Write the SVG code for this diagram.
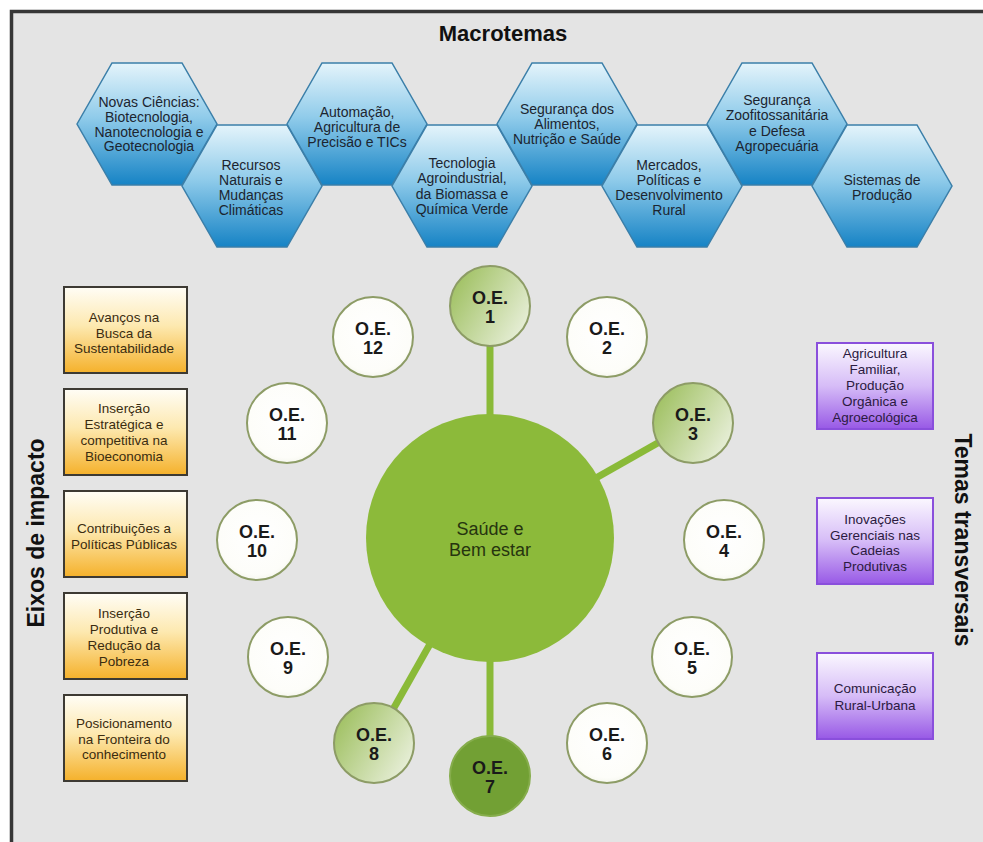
<svg xmlns="http://www.w3.org/2000/svg" xmlns:xlink="http://www.w3.org/1999/xlink" width="983" height="842" viewBox="0 0 983 842">
  <defs>
    <linearGradient id="gHex" x1="0" y1="0" x2="0" y2="1">
      <stop offset="0" stop-color="#e4f4fb"/>
      <stop offset="0.45" stop-color="#8fcbea"/>
      <stop offset="1" stop-color="#1683c5"/>
    </linearGradient>
    <linearGradient id="gAxis" x1="0" y1="0" x2="0" y2="1">
      <stop offset="0" stop-color="#fffdf6"/>
      <stop offset="0.45" stop-color="#fde9b0"/>
      <stop offset="1" stop-color="#f5b12b"/>
    </linearGradient>
    <linearGradient id="gTheme" x1="0" y1="0" x2="0" y2="1">
      <stop offset="0" stop-color="#fbf8ff"/>
      <stop offset="0.5" stop-color="#d6bcf7"/>
      <stop offset="1" stop-color="#9859e6"/>
    </linearGradient>
    <linearGradient id="gLinked" x1="0" y1="0.2" x2="1" y2="0.8">
      <stop offset="0" stop-color="#9dbf5e"/>
      <stop offset="1" stop-color="#ebf1de"/>
    </linearGradient>
    <radialGradient id="gPlain" cx="0.5" cy="0.45" r="0.6">
      <stop offset="0" stop-color="#ffffff"/>
      <stop offset="0.8" stop-color="#fdfdf9"/>
      <stop offset="1" stop-color="#f1f3e8"/>
    </radialGradient>
    <polygon id="hex" points="-70,0 -35,-61 35,-61 70,0 35,61 -35,61"/>
    <style>
      text { font-family: "Liberation Sans", Arial, sans-serif; text-anchor: middle; }
      .title { font-size: 22px; font-weight: bold; fill: #111; }
      .side { font-size: 23px; font-weight: bold; fill: #111; }
      .hex { fill: url(#gHex); stroke: #3b7fa9; stroke-width: 1.5; }
      .hexText { font-size: 14px; fill: #1c2530; }
      .axis { fill: url(#gAxis); stroke: #3d3a33; stroke-width: 2; }
      .axisText { font-size: 13.5px; fill: #3a2c10; }
      .theme { fill: url(#gTheme); stroke: #8a4fdc; stroke-width: 2; }
      .themeText { font-size: 13.5px; fill: #2b1a40; }
      .oe { stroke: #8d9c66; stroke-width: 2; }
      .plain { fill: url(#gPlain); }
      .linked { fill: url(#gLinked); }
      .strong { fill: #72a034; stroke: #86ad4c; }
      .oeText { font-size: 18px; font-weight: bold; fill: #1a1a1a; }
      .hub { fill: #8cba3a; }
      .hubText { font-size: 18px; fill: #26340f; }
      .link { stroke: #8aba38; stroke-width: 7; fill: none; }
    </style>
  </defs>

  <!-- page and frame -->
  <rect width="983" height="842" fill="#ffffff"/>
  <rect x="10" y="10" width="973" height="832" fill="#e4e4e4"/>
  <path d="M11.5 842 V11.5 H983" fill="none" stroke="#363636" stroke-width="3.5"/>

  <text class="title" x="503" y="41">Macrotemas</text>

  <!-- macrotemas: honeycomb row -->
  <g id="macro-novas-ciencias">
    <use xlink:href="#hex" class="hex" transform="translate(147,124)"/>
    <text class="hexText"><tspan x="149" y="107">Novas Ciências:</tspan><tspan x="149" y="122">Biotecnologia,</tspan><tspan x="149" y="136.5">Nanotecnologia e</tspan><tspan x="149" y="151">Geotecnologia</tspan></text>
  </g>
  <g id="macro-recursos-naturais">
    <use xlink:href="#hex" class="hex" transform="translate(252,186)"/>
    <text class="hexText"><tspan x="251" y="170">Recursos</tspan><tspan x="251" y="185">Naturais e</tspan><tspan x="251" y="200">Mudanças</tspan><tspan x="251" y="215">Climáticas</tspan></text>
  </g>
  <g id="macro-automacao">
    <use xlink:href="#hex" class="hex" transform="translate(357,124)"/>
    <text class="hexText"><tspan x="357" y="117">Automação,</tspan><tspan x="357" y="132">Agricultura de</tspan><tspan x="357" y="147">Precisão e TICs</tspan></text>
  </g>
  <g id="macro-tecnologia-agroindustrial">
    <use xlink:href="#hex" class="hex" transform="translate(462,186)"/>
    <text class="hexText"><tspan x="462" y="168">Tecnologia</tspan><tspan x="462" y="183">Agroindustrial,</tspan><tspan x="462" y="198.5">da Biomassa e</tspan><tspan x="462" y="214">Química Verde</tspan></text>
  </g>
  <g id="macro-seguranca-alimentos">
    <use xlink:href="#hex" class="hex" transform="translate(567,124)"/>
    <text class="hexText"><tspan x="567" y="114">Segurança dos</tspan><tspan x="567" y="129">Alimentos,</tspan><tspan x="567" y="144">Nutrição e Saúde</tspan></text>
  </g>
  <g id="macro-mercados">
    <use xlink:href="#hex" class="hex" transform="translate(672,186)"/>
    <text class="hexText"><tspan x="669" y="170">Mercados,</tspan><tspan x="669" y="185">Políticas e</tspan><tspan x="669" y="200">Desenvolvimento</tspan><tspan x="669" y="215">Rural</tspan></text>
  </g>
  <g id="macro-zoofitossanitaria">
    <use xlink:href="#hex" class="hex" transform="translate(777,124)"/>
    <text class="hexText"><tspan x="777" y="105">Segurança</tspan><tspan x="777" y="120">Zoofitossanitária</tspan><tspan x="777" y="136">e Defesa</tspan><tspan x="777" y="151">Agropecuária</tspan></text>
  </g>
  <g id="macro-sistemas-producao">
    <use xlink:href="#hex" class="hex" transform="translate(882,186)"/>
    <text class="hexText"><tspan x="882" y="185">Sistemas de</tspan><tspan x="882" y="200">Produção</tspan></text>
  </g>

  <!-- eixos de impacto -->
  <text class="side" transform="translate(44,533) rotate(-90)">Eixos de impacto</text>
  <g id="eixo-sustentabilidade">
    <rect class="axis" x="64" y="287" width="123" height="86"/>
    <text class="axisText"><tspan x="124" y="322">Avanços na</tspan><tspan x="124" y="337.5">Busca da</tspan><tspan x="124" y="353">Sustentabilidade</tspan></text>
  </g>
  <g id="eixo-bioeconomia">
    <rect class="axis" x="64" y="389" width="123" height="86"/>
    <text class="axisText"><tspan x="124" y="413">Inserção</tspan><tspan x="124" y="429">Estratégica e</tspan><tspan x="124" y="445">competitiva na</tspan><tspan x="124" y="461">Bioeconomia</tspan></text>
  </g>
  <g id="eixo-politicas">
    <rect class="axis" x="64" y="491" width="123" height="86"/>
    <text class="axisText"><tspan x="124" y="533">Contribuições a</tspan><tspan x="124" y="548.5">Políticas Públicas</tspan></text>
  </g>
  <g id="eixo-pobreza">
    <rect class="axis" x="64" y="593" width="123" height="86"/>
    <text class="axisText"><tspan x="124" y="618">Inserção</tspan><tspan x="124" y="634">Produtiva e</tspan><tspan x="124" y="650">Redução da</tspan><tspan x="124" y="665.5">Pobreza</tspan></text>
  </g>
  <g id="eixo-fronteira">
    <rect class="axis" x="64" y="695" width="123" height="86"/>
    <text class="axisText"><tspan x="124" y="728">Posicionamento</tspan><tspan x="124" y="743.5">na Fronteira do</tspan><tspan x="124" y="759">conhecimento</tspan></text>
  </g>

  <!-- temas transversais -->
  <text class="side" transform="translate(955,540) rotate(90)">Temas transversais</text>
  <g id="tema-agricultura-familiar">
    <rect class="theme" x="817" y="343" width="116" height="86"/>
    <text class="themeText"><tspan x="875" y="358">Agricultura</tspan><tspan x="875" y="374">Familiar,</tspan><tspan x="875" y="390">Produção</tspan><tspan x="875" y="406">Orgânica e</tspan><tspan x="875" y="422">Agroecológica</tspan></text>
  </g>
  <g id="tema-inovacoes-gerenciais">
    <rect class="theme" x="817" y="498" width="116" height="86"/>
    <text class="themeText"><tspan x="875" y="524">Inovações</tspan><tspan x="875" y="539.5">Gerenciais nas</tspan><tspan x="875" y="555">Cadeias</tspan><tspan x="875" y="570.5">Produtivas</tspan></text>
  </g>
  <g id="tema-comunicacao">
    <rect class="theme" x="817" y="653" width="116" height="86"/>
    <text class="themeText"><tspan x="875" y="693">Comunicação</tspan><tspan x="875" y="709.5">Rural-Urbana</tspan></text>
  </g>

  <!-- spokes from the hub to the linked objectives -->
  <g id="connectors">
    <line class="link" x1="490" y1="538" x2="490" y2="306"/>
    <line class="link" x1="490" y1="538" x2="693" y2="423"/>
    <line class="link" x1="490" y1="538" x2="490" y2="776"/>
    <line class="link" x1="490" y1="538" x2="374" y2="743"/>
  </g>

  <!-- hub -->
  <g id="hub-saude">
    <circle class="hub" cx="490" cy="538" r="124"/>
    <text class="hubText"><tspan x="490" y="535">Saúde e</tspan><tspan x="490" y="556">Bem estar</tspan></text>
  </g>

  <!-- objetivos estratégicos -->
  <g id="oe1">
    <circle class="oe linked" cx="490" cy="306" r="40"/>
    <text class="oeText"><tspan x="490" y="304">O.E.</tspan><tspan x="490" y="323">1</tspan></text>
  </g>
  <g id="oe2">
    <circle class="oe plain" cx="607" cy="337" r="40"/>
    <text class="oeText"><tspan x="607" y="335">O.E.</tspan><tspan x="607" y="354">2</tspan></text>
  </g>
  <g id="oe3">
    <circle class="oe linked" cx="693" cy="423" r="40"/>
    <text class="oeText"><tspan x="693" y="421">O.E.</tspan><tspan x="693" y="440">3</tspan></text>
  </g>
  <g id="oe4">
    <circle class="oe plain" cx="724" cy="540" r="40"/>
    <text class="oeText"><tspan x="724" y="538">O.E.</tspan><tspan x="724" y="557">4</tspan></text>
  </g>
  <g id="oe5">
    <circle class="oe plain" cx="692" cy="657" r="40"/>
    <text class="oeText"><tspan x="692" y="655">O.E.</tspan><tspan x="692" y="674">5</tspan></text>
  </g>
  <g id="oe6">
    <circle class="oe plain" cx="607" cy="743" r="40"/>
    <text class="oeText"><tspan x="607" y="741">O.E.</tspan><tspan x="607" y="760">6</tspan></text>
  </g>
  <g id="oe7">
    <circle class="oe strong" cx="490" cy="776" r="40"/>
    <text class="oeText"><tspan x="490" y="774">O.E.</tspan><tspan x="490" y="793">7</tspan></text>
  </g>
  <g id="oe8">
    <circle class="oe linked" cx="374" cy="743" r="40"/>
    <text class="oeText"><tspan x="374" y="741">O.E.</tspan><tspan x="374" y="760">8</tspan></text>
  </g>
  <g id="oe9">
    <circle class="oe plain" cx="288" cy="657" r="40"/>
    <text class="oeText"><tspan x="288" y="655">O.E.</tspan><tspan x="288" y="674">9</tspan></text>
  </g>
  <g id="oe10">
    <circle class="oe plain" cx="257" cy="540" r="40"/>
    <text class="oeText"><tspan x="257" y="538">O.E.</tspan><tspan x="257" y="557">10</tspan></text>
  </g>
  <g id="oe11">
    <circle class="oe plain" cx="287" cy="423" r="40"/>
    <text class="oeText"><tspan x="287" y="421">O.E.</tspan><tspan x="287" y="440">11</tspan></text>
  </g>
  <g id="oe12">
    <circle class="oe plain" cx="373" cy="337" r="40"/>
    <text class="oeText"><tspan x="373" y="335">O.E.</tspan><tspan x="373" y="354">12</tspan></text>
  </g>
</svg>
